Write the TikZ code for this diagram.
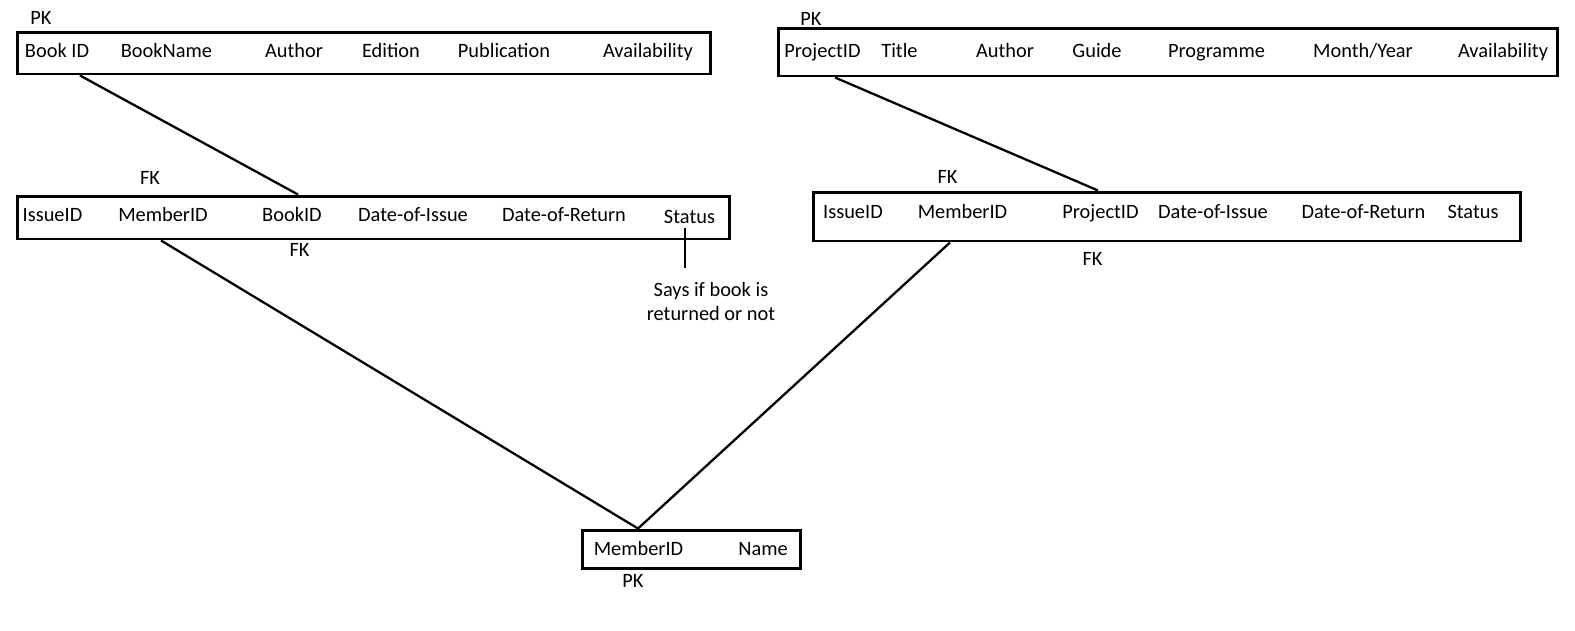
\documentclass[tikz,border=0pt]{standalone}
\usepackage{fontspec}
\setmainfont{Carlito}
\usepackage{tikz}
\usetikzlibrary{positioning,calc}

\begin{document}
\begin{tikzpicture}[x=0.02cm, y=-0.02cm,
    table/.style={rectangle, draw, line width=1.7pt, inner sep=0pt},
    field/.style={anchor=base, inner sep=0pt, font=\fontsize{11.6}{13.6}\selectfont},
    link/.style={line width=1.3pt}
]
    \useasboundingbox (0,0) rectangle (1575,630);

    % Book table
    \node[table, minimum width=13.88cm, minimum height=0.84cm] (book) at (364,53) {};
    \node[field] (bkpk) at (41,24) {PK};
    \node[field] (bkid) at (57,57) {Book ID};
    \node[field] (bkname) at (166.5,57) {BookName};
    \node[field] (bkauth) at (294,57) {Author};
    \node[field] (bkedit) at (391,57) {Edition};
    \node[field] (bkpub) at (504,57) {Publication};
    \node[field] (bkavail) at (648,57) {Availability};

    % Book issue table
    \node[table, minimum width=14.26cm, minimum height=0.86cm] (bissue) at (373.5,217.5) {};
    \node[field] (bifk1) at (150,184) {FK};
    \node[field] (biid) at (52.5,221) {IssueID};
    \node[field] (bimem) at (163,221) {MemberID};
    \node[field] (bibook) at (292,221) {BookID};
    \node[field] (bidoi) at (413,221) {Date-of-Issue};
    \node[field] (bidor) at (564,221) {Date-of-Return};
    \node[field] (bistat) at (689.5,223) {Status};
    \node[field] (bifk2) at (299.5,256) {FK};
    \node[field, align=center] (note) at (711,320) {Says if book is\\returned or not};
    \coordinate (stub) at (685,268);

    % Project table
    \node[table, minimum width=15.6cm, minimum height=0.96cm] (project) at (1168,52) {};
    \node[field] (prpk) at (811,25) {PK};
    \node[field] (prid) at (822.5,57) {ProjectID};
    \node[field] (prtitle) at (899.5,57) {Title};
    \node[field] (prauth) at (1005,57) {Author};
    \node[field] (prguide) at (1097,57) {Guide};
    \node[field] (prprog) at (1216.5,57) {Programme};
    \node[field] (prmonth) at (1363,57) {Month/Year};
    \node[field] (pravail) at (1503,57) {Availability};

    % Project issue table
    \node[table, minimum width=14.16cm, minimum height=0.98cm] (pissue) at (1167,216.5) {};
    \node[field] (pifk1) at (947.5,183) {FK};
    \node[field] (piid) at (853,218) {IssueID};
    \node[field] (pimem) at (962.5,218) {MemberID};
    \node[field] (piproj) at (1100.5,218) {ProjectID};
    \node[field] (pidoi) at (1213,218) {Date-of-Issue};
    \node[field] (pidor) at (1363.5,218) {Date-of-Return};
    \node[field] (pistat) at (1473,218) {Status};
    \node[field] (pifk2) at (1092.5,265) {FK};

    % Member table
    \node[table, minimum width=4.38cm, minimum height=0.76cm] (member) at (691.5,549) {};
    \node[field] (mbid) at (638.5,555) {MemberID};
    \node[field] (mbname) at (763,555) {Name};
    \node[field] (mbpk) at (633,587) {PK};

    % Links
    \draw[link] (book.south -| 80,0) -- (bissue.north -| 298,0);
    \draw[link] (bissue.south -| 161,0) -- (member.north -| 638,0);
    \draw[link] (project.south -| 835,0) -- (pissue.north -| 1098,0);
    \draw[link] (pissue.south -| 950,0) -- (member.north -| 638,0);
    \draw[link] (stub |- 0,228) -- (stub);
\end{tikzpicture}
\end{document}
